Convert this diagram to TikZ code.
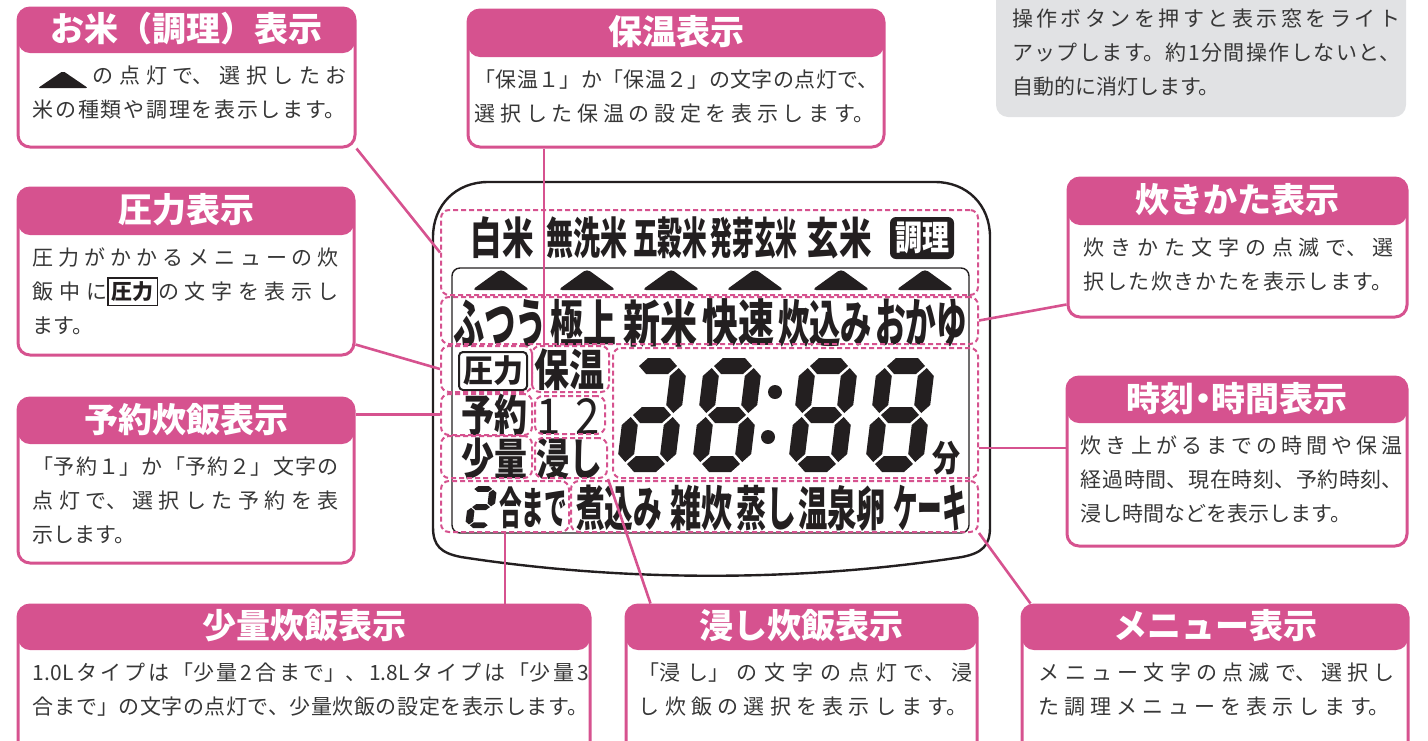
\documentclass[tikz,border=0pt]{standalone}
\usepackage{fontspec}
\newfontfamily\jp{Noto Sans CJK JP}
\usetikzlibrary{fit}
\definecolor{pinkc}{RGB}{214,82,143}
\definecolor{greybox}{RGB}{225,226,228}
\definecolor{textgrey}{RGB}{55,55,55}
\definecolor{lcdblack}{RGB}{35,31,32}
\XeTeXlinebreaklocale "ja"
\XeTeXlinebreakskip=0pt plus 1fil minus 1pt
\begin{document}
\begin{tikzpicture}[x=0.5pt,y=-0.5pt,
  boxstyle/.style={draw=pinkc, line width=1.5pt, rounded corners=6pt, inner sep=0pt,
    path picture={\fill[pinkc] (path picture bounding box.north west) rectangle ([yshift=-#1]path picture bounding box.north east);}},
  titlestyle/.style={text=white, font=\jp\bfseries\fontsize{17}{17}\selectfont, inner sep=0pt},
  textstyle/.style={text=textgrey, font=\jp\fontsize{10.5}{17}\selectfont, align=justify, inner sep=0pt, anchor=north west, text width=#1},
  dashstyle/.style={draw=pinkc, line width=1pt, dash pattern=on 2.5pt off 1.5pt, rounded corners=4pt, inner sep=0pt},
  linkstyle/.style={draw=pinkc, line width=1.3pt},
  lcdstyle/.style={text=lcdblack, font=\jp\bfseries, inner sep=0pt}]

    \newcommand*{\lcdh}[3]{\fill[lcdblack] (#1,#3) -- (#1+8,#3-8) -- (#2-8,#3-8) -- (#2,#3) -- (#2-8,#3+8) -- (#1+8,#3+8) -- cycle;}%
    \newcommand*{\lcdv}[3]{\fill[lcdblack] (#1,#2) -- (#1+8,#2+8) -- (#1+8,#3-8) -- (#1,#3) -- (#1-8,#3-8) -- (#1-8,#2+8) -- cycle;}%
    \setlength{\fboxsep}{1.5pt}\setlength{\fboxrule}{0.8pt}%

    \useasboundingbox (0,0) rectangle (1428,740);

    % callout boxes
    \node[boxstyle=22.5pt, fit={(18,8) (355,147)}] (komebox) {};
    \node[titlestyle] (kometitle) at ([yshift=-11.25pt]komebox.north) {お米（調理）表示};
    \node[textstyle=157pt] (komebody) at ([xshift=8pt,yshift=-29.5pt]komebox.north west) {\hspace*{30pt}の点灯で、選択したお\break 米の種類や調理を表示します。};
    \fill[lcdblack, rounded corners=1pt] (38,88) -- (63,71) -- (88,88) -- cycle;

    \node[boxstyle=23.5pt, fit={(468,10) (884,147)}] (hoonbox) {};
    \node[titlestyle] (hoontitle) at ([yshift=-11.75pt]hoonbox.north) {保温表示};
    \node[textstyle=202pt] (hoonbody) at ([xshift=4pt,yshift=-30.5pt]hoonbox.north west) {「保温１」か「保温２」の文字の点灯で、\break 選択した保温の設定を表示します。};

    \node[boxstyle=23.5pt, fit={(18,188) (354,355)}] (atsubox) {};
    \node[titlestyle] (atsutitle) at ([yshift=-11.75pt]atsubox.north) {圧力表示};
    \node[textstyle=153pt] (atsubody) at ([xshift=8pt,yshift=-30.5pt]atsubox.north west) {圧力がかかるメニューの炊\break 飯中に{\color{lcdblack}\fbox{\bfseries 圧力}}の文字を表示し\break \mbox{ます。}};

    \node[boxstyle=23pt, fit={(18,398) (354,563)}] (yoyakubox) {};
    \node[titlestyle] (yoyakutitle) at ([yshift=-11.5pt]yoyakubox.north) {予約炊飯表示};
    \node[textstyle=153pt] (yoyakubody) at ([xshift=8pt,yshift=-30pt]yoyakubox.north west) {「予約１」か「予約２」文字の\break 点灯で、選択した予約を表\break \mbox{示します。}};

    \node[boxstyle=23.5pt, fit={(1068,178) (1407,317)}] (takibox) {};
    \node[titlestyle] (takititle) at ([yshift=-11.75pt]takibox.north) {炊きかた表示};
    \node[textstyle=155pt] (takibody) at ([xshift=8.5pt,yshift=-30.5pt]takibox.north west) {炊きかた文字の点滅で、選\break 択した炊きかたを表示します。};

    \node[boxstyle=23pt, fit={(1067,377) (1407,546)}] (jikokubox) {};
    \node[titlestyle] (jikokutitle) at ([yshift=-11.5pt]jikokubox.north) {時刻\kern-0.25em・\kern-0.25em時間表示};
    \node[textstyle=161pt] (jikokubody) at ([xshift=7.5pt,yshift=-30pt]jikokubox.north west) {炊き上がるまでの時間や保温\break 経過時間、現在時刻、予約時刻、\break \mbox{浸し時間などを表示します。}};

    \node[boxstyle=22.5pt, fit={(18,605) (590,760)}] (shoryobox) {};
    \node[titlestyle] (shoryotitle) at ([yshift=-11.25pt]shoryobox.north) {少量炊飯表示};
    \node[textstyle=278pt] (shoryobody) at ([xshift=8pt,yshift=-29.5pt]shoryobox.north west) {1.0Lタイプは「少量2合まで」、1.8Lタイプは「少量3\break 合まで」の文字の点灯で、少量炊飯の設定を表示します。};

    \node[boxstyle=22.5pt, fit={(626,605) (977,760)}] (hitashibox) {};
    \node[titlestyle] (hitashititle) at ([yshift=-11.25pt]hitashibox.north) {浸し炊飯表示};
    \node[textstyle=167pt] (hitashibody) at ([xshift=7pt,yshift=-29.5pt]hitashibox.north west) {「浸し」の文字の点灯で、浸\break し炊飯の選択を表示します。};

    \node[boxstyle=22.5pt, fit={(1022,605) (1408,760)}] (menubox) {};
    \node[titlestyle] (menutitle) at ([yshift=-11.25pt]menubox.north) {メニュー表示};
    \node[textstyle=178pt] (menubody) at ([xshift=9pt,yshift=-29.5pt]menubox.north west) {メニュー文字の点滅で、選択し\break た調理メニューを表示します。};

    \node[fill=greybox, rounded corners=6pt, inner sep=0pt, fit={(996,-15) (1406,117)}] (notebox) {};
    \node[textstyle=194pt] (notebody) at ([xshift=8pt,yshift=-12pt]notebox.north west) {操作ボタンを押すと表示窓をライト\break アップします。約1分間操作しないと、\break \mbox{自動的に消灯します。}};

    % display window
    \draw[lcdblack, line width=1.2pt] (433,527) -- (433,237) .. controls (433,205) and (456,182) .. (488,182) -- (935,182)
      .. controls (967,182) and (990,205) .. (990,237) -- (990,527)
      .. controls (990,546) and (982,553) .. (962,557) .. controls (800,582) and (623,582) .. (461,557) .. controls (441,553) and (433,546) .. (433,527);
    \draw[lcdblack, line width=0.7pt, rounded corners=4pt] (452,268) rectangle (969,533);

    \foreach \x/\w/\word in {502/31.5/白米, 587/40.5/無洗米, 670/37/五穀米, 754/43.5/発芽玄米, 839/32.5/玄米}
       \node[lcdstyle] (r\x) at (\x,238) {\resizebox*{\w pt}{21pt}{\word}};
    \node[lcdstyle, fill=lcdblack, text=white, rounded corners=3pt, inner sep=2.5pt] (chori) at (922,238) {\resizebox*{27pt}{16pt}{調理}};

    \foreach \x in {501,587,671,755,841,925}
       \fill[lcdblack, rounded corners=2pt] (\x-29,290) -- (\x,269) -- (\x+29,290) -- cycle;

    \foreach \x/\w/\word in {500/47/ふつう, 583/33/極上, 660/37/新米, 738/36/快速, 825/47/炊込み, 921/46/おかゆ}
       \node[lcdstyle] (c\x) at (\x,323) {\resizebox*{\w pt}{24pt}{\word}};

    \node[lcdstyle, draw=lcdblack, line width=1pt, rounded corners=2pt, inner sep=2pt] (atsuword) at (493,371) {\resizebox*{30pt}{15pt}{圧力}};
    \node[lcdstyle] (hoonword) at (569,370) {\resizebox*{35pt}{21pt}{保温}};
    \node[lcdstyle] (yoyakuword) at (494,415) {\resizebox*{33pt}{21pt}{予約}};
    \node[lcdstyle, font=\jp] (numword) at (568,416) {\resizebox*{32pt}{18pt}{1\hspace{0.35em}2}};
    \node[lcdstyle] (shoryoword) at (494,459) {\resizebox*{33pt}{21pt}{少量}};
    \node[lcdstyle] (hitashiword) at (569,459) {\resizebox*{33pt}{21pt}{浸し}};
    \node[lcdstyle] (funword) at (946,458) {\resizebox*{14pt}{17pt}{分}};
    \node[lcdstyle] (gouword) at (533,508) {\resizebox*{34pt}{21pt}{合まで}};

    \foreach \x/\w/\word in {619/43/煮込み, 701/31/雑炊, 766/30/蒸し, 842/44/温泉卵, 930/37/ケーキ}
       \node[lcdstyle] (m\x) at (\x,508) {\resizebox*{\w pt}{23pt}{\word}};

    % seven segment digits
    \begin{scope}[shift={(630,358)}, xslant=0.123]
      \lcdh{10}{48}{8} \lcdh{10}{48}{57} \lcdh{10}{48}{106}
      \lcdv{50}{10}{55} \lcdv{8}{59}{104} \lcdv{50}{59}{104}
    \end{scope}
    \foreach \dx in {705,801,878} {
      \begin{scope}[shift={(\dx,358)}, xslant=0.123]
        \lcdh{10}{48}{8} \lcdh{10}{48}{57} \lcdh{10}{48}{106}
        \lcdv{8}{10}{55} \lcdv{50}{10}{55} \lcdv{8}{59}{104} \lcdv{50}{59}{104}
      \end{scope}
    }
    \fill[lcdblack] (775,392) circle (3.5pt);
    \fill[lcdblack] (768,437) circle (3.5pt);
    \begin{scope}[shift={(470,486)}, xslant=0.123, xscale=0.47, yscale=0.37]
      \lcdh{10}{48}{8} \lcdh{10}{48}{57} \lcdh{10}{48}{106}
      \lcdv{50}{10}{55} \lcdv{8}{59}{104}
    \end{scope}

    % dashed areas
    \node[dashstyle, fit={(441,210) (978,295)}] (rice) {};
    \node[dashstyle, fit={(441,297) (978,344)}] (course) {};
    \node[dashstyle, fit={(441,346) (532,392)}] (atsu) {};
    \node[dashstyle, fit={(532,346) (609,392)}] (hoon) {};
    \node[dashstyle, fit={(441,394) (532,435)}] (yoyaku) {};
    \node[dashstyle, fit={(535,396) (605,434)}] (num) {};
    \node[dashstyle, fit={(441,436) (532,478)}] (shoryo) {};
    \node[dashstyle, fit={(535,438) (607,478)}] (hitashi) {};
    \node[dashstyle, fit={(613,348) (978,478)}] (digits) {};
    \node[dashstyle, fit={(441,481) (569,532)}] (gou) {};
    \node[dashstyle, fit={(571,481) (978,532)}] (menu) {};

    % connectors
    \draw[linkstyle] (komebox.south east) -- (rice.west);
    \draw[linkstyle] ([xshift=6.5pt]hoon.north west) -- ([xshift=6.5pt]hoon.north west |- hoonbox.south);
    \draw[linkstyle] ([yshift=6pt]atsubox.south east) -- (atsu.west);
    \draw[linkstyle] (yoyaku.west) -- (yoyaku.west -| yoyakubox.east);
    \draw[linkstyle] ([yshift=7pt]takibox.south west) -- (course.east);
    \draw[linkstyle] ([yshift=-17.5pt]digits.east) -- ([yshift=-17.5pt]digits.east -| jikokubox.west);
    \draw[linkstyle] (menu.south east) -- ([xshift=5pt]menubox.north west);
    \draw[linkstyle] (gou.south) -- (gou.south |- shoryobox.north);
    \draw[linkstyle] (hitashi.south east) -- ([xshift=13pt]hitashibox.north west);

\end{tikzpicture}
\end{document}
